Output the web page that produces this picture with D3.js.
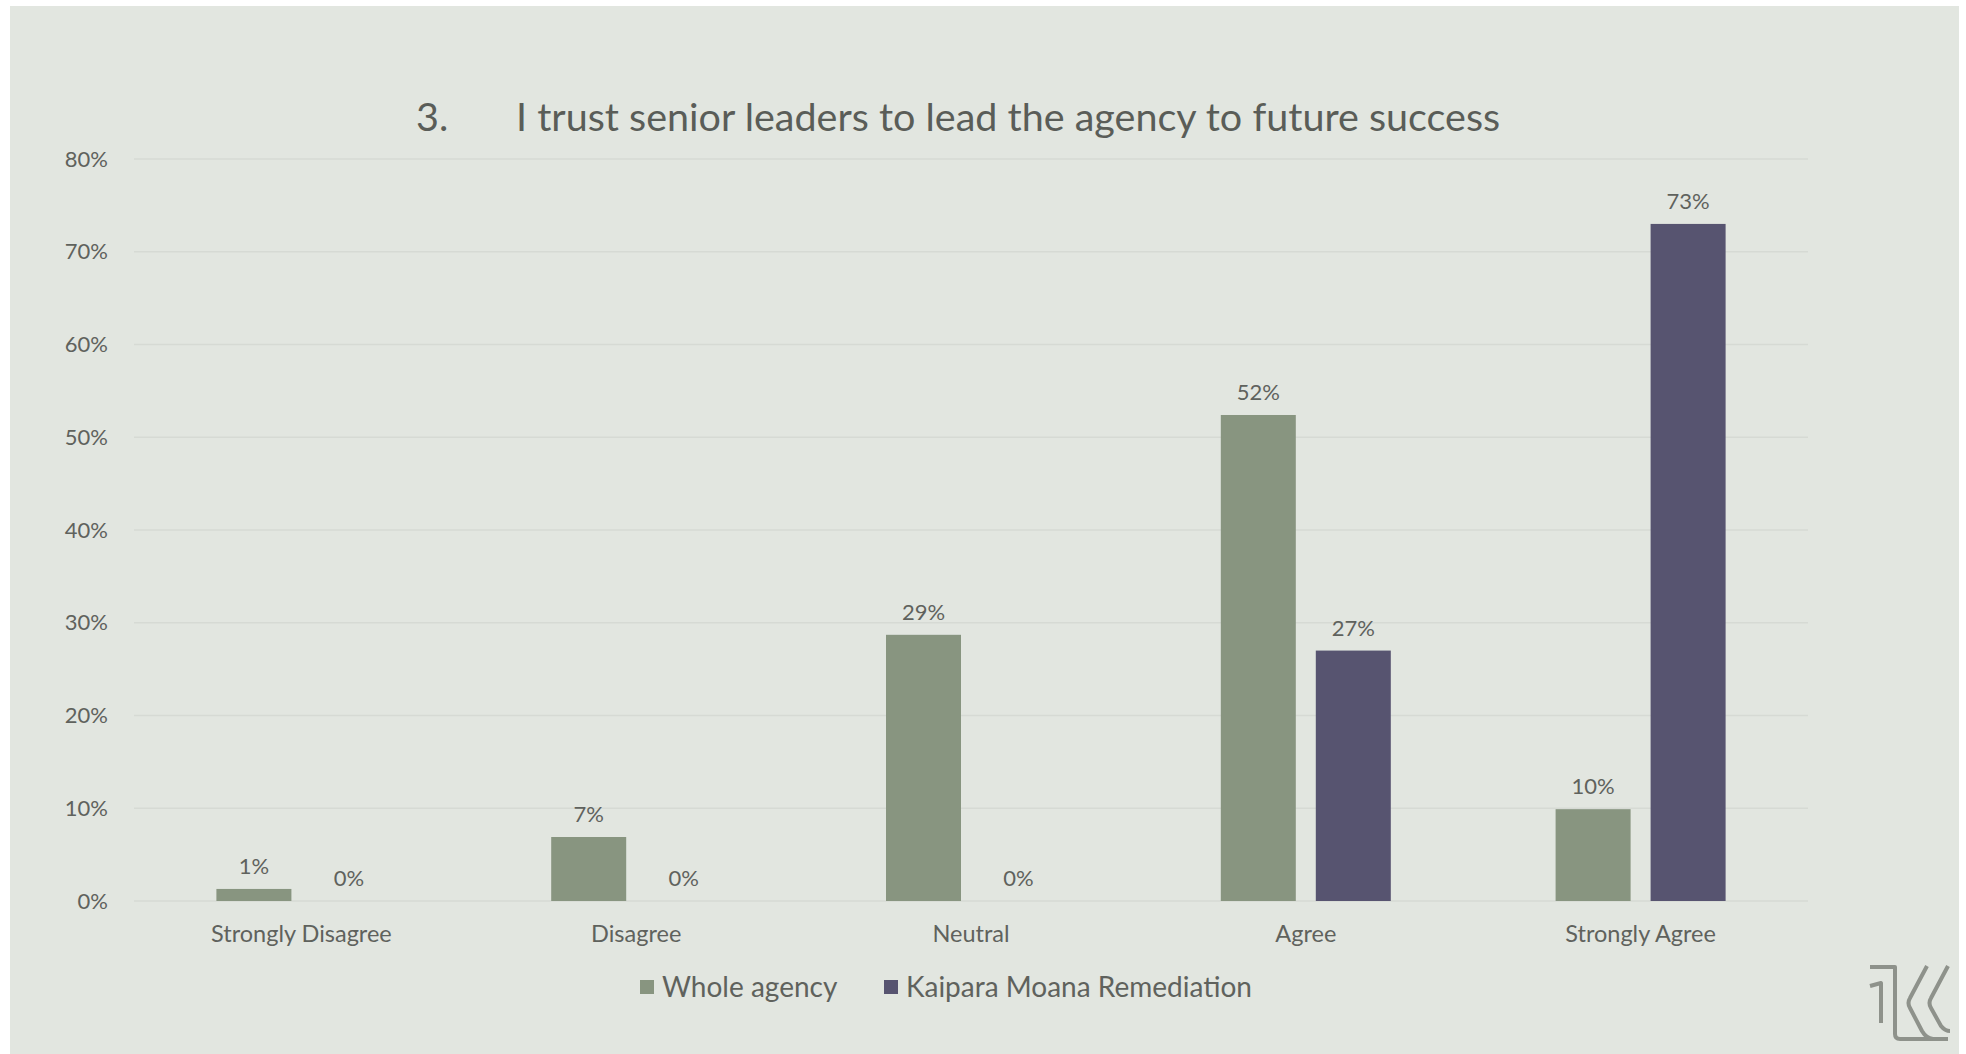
<!DOCTYPE html>
<html>
<head>
<meta charset="utf-8">
<script src="https://cdn.jsdelivr.net/npm/d3@7"></script>
<style>
  body { margin: 0; background: #fff; }
  svg { display: block; }
  text { font-family: Lato, "Open Sans", sans-serif; fill: #5f625d; }
</style>
</head>
<body>
<div id="chart"></div>
<script>
const categories = ["Strongly Disagree", "Disagree", "Neutral", "Agree", "Strongly Agree"];
const seriesNames = ["Whole agency", "Kaipara Moana Remediation"];
const wholeAgency = [1.3, 6.9, 28.7, 52.4, 9.9];
const kaipara = [0, 0, 0, 27.0, 73.0];
const yTicks = [0, 10, 20, 30, 40, 50, 60, 70, 80];

const width = 1966;
const height = 1054;
const colors = ["#889580", "#575470"];

const svg = d3.select("#chart").append("svg")
    .attr("width", width)
    .attr("height", height);

// panel background
svg.append("rect")
    .attr("x", 10).attr("y", 6)
    .attr("width", 1949).attr("height", 1048)
    .attr("fill", "#e2e6e0");

const x = d3.scaleBand()
    .domain(categories)
    .range([134, 1808]);

const y = d3.scaleLinear()
    .domain([0, 80])
    .range([901, 159]);

const barW = 75, gap = 20;
const sub = d3.scaleOrdinal()
    .domain(seriesNames)
    .range([-(gap / 2 + barW), gap / 2]);

// gridlines
svg.append("g")
    .selectAll("line")
    .data(yTicks)
    .enter().append("line")
    .attr("x1", 134)
    .attr("x2", 1808)
    .attr("y1", d => y(d))
    .attr("y2", d => y(d))
    .attr("stroke", "#d6dad4")
    .attr("stroke-width", 1.5);

// y labels
svg.append("g")
    .selectAll("text")
    .data(yTicks)
    .enter().append("text")
    .attr("x", 108)
    .attr("y", d => y(d))
    .attr("dy", "0.35em")
    .attr("text-anchor", "end")
    .style("font-size", "22px")
    .text(d => d + "%");

// title
const title = svg.append("text")
    .attr("y", 131)
    .style("font-size", "39.5px")
    .style("fill", "#5a5d58");
title.append("tspan").attr("x", 416).text("3.");
title.append("tspan").attr("x", 516).text("I trust senior leaders to lead the agency to future success");

const rows = categories.map((c, i) => ({
    cat: c,
    vals: [
        { name: seriesNames[0], v: wholeAgency[i] },
        { name: seriesNames[1], v: kaipara[i] }
    ]
}));

const groups = svg.append("g")
    .selectAll("g")
    .data(rows)
    .enter().append("g")
    .attr("transform", d => `translate(${x(d.cat) + x.bandwidth() / 2},0)`);

groups.selectAll("rect")
    .data(d => d.vals)
    .enter().append("rect")
    .attr("x", d => sub(d.name))
    .attr("width", barW)
    .attr("y", d => y(d.v))
    .attr("height", d => y(0) - y(d.v))
    .attr("fill", (d, i) => colors[i]);

groups.selectAll("text.lbl")
    .data(d => d.vals)
    .enter().append("text")
    .attr("class", "lbl")
    .attr("x", d => sub(d.name) + barW / 2)
    .attr("y", d => y(d.v) - 15)
    .attr("text-anchor", "middle")
    .style("font-size", "22px")
    .text(d => Math.round(d.v) + "%");

// category labels
svg.append("g")
    .selectAll("text")
    .data(categories)
    .enter().append("text")
    .attr("x", d => x(d) + x.bandwidth() / 2)
    .attr("y", 942)
    .attr("text-anchor", "middle")
    .style("font-size", "23.5px")
    .text(d => d);

// legend
const legendX = [640, 884];
const legend = svg.append("g")
    .selectAll("g")
    .data(seriesNames)
    .enter().append("g")
    .attr("transform", (d, i) => `translate(${legendX[i]},987)`);
legend.append("rect")
    .attr("x", 0).attr("y", -7)
    .attr("width", 14).attr("height", 14)
    .attr("fill", (d, i) => colors[i]);
legend.append("text")
    .attr("x", 22)
    .attr("dy", "0.36em")
    .style("font-size", "28px")
    .text(d => d);

// logo mark, bottom right
const logo = svg.append("g")
    .attr("fill", "none")
    .attr("stroke", "#8e928b")
    .attr("stroke-width", 4)
    .attr("stroke-linejoin", "round");
logo.append("path").attr("d", "M1870,967 H1895 V1034 Q1895,1039 1900,1039 H1948");
logo.append("path").attr("d", "M1870,986 L1881,983 V1023");
logo.append("path").attr("d", "M1927,966 L1910,998 Q1907,1003 1910,1008 L1922,1031 Q1926,1038 1933,1039");
logo.append("path").attr("d", "M1948,966 L1931,998 Q1928,1003 1931,1008 L1941,1026 Q1945,1031 1950,1031");
</script>
</body>
</html>
